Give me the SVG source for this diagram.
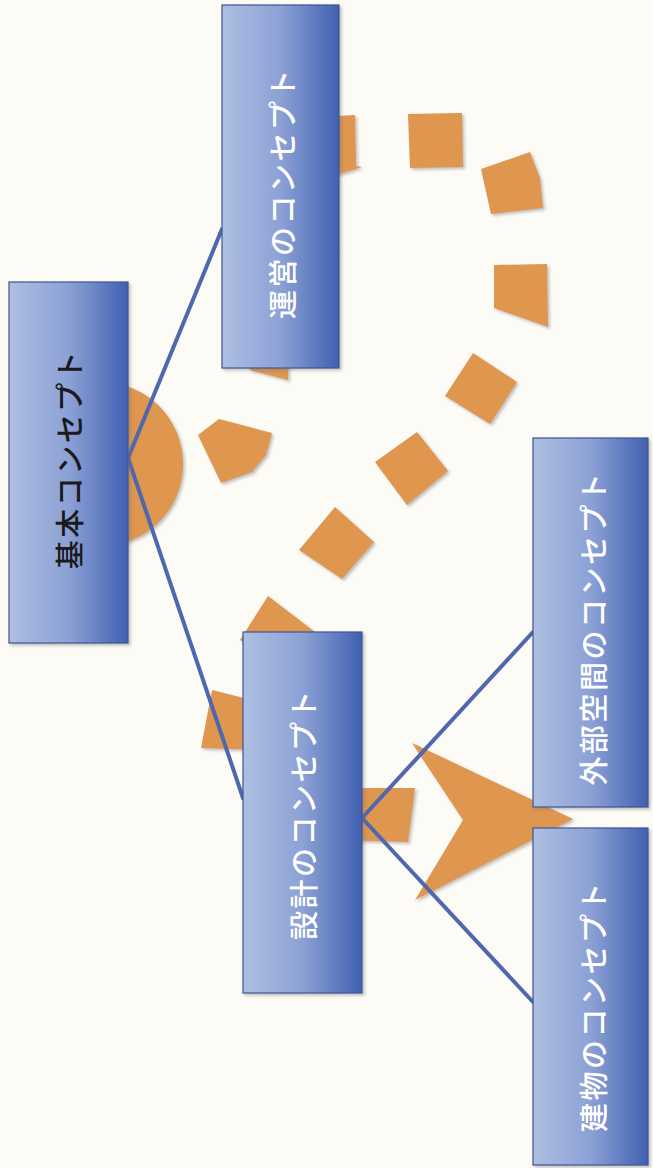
<svg xmlns="http://www.w3.org/2000/svg" width="653" height="1168" viewBox="0 0 653 1168">
<defs>
<linearGradient id="boxGrad" x1="0" y1="0" x2="1" y2="0">
<stop offset="0" stop-color="#afbfe2"/>
<stop offset="0.5" stop-color="#8ca1d5"/>
<stop offset="1" stop-color="#4060b1"/>
</linearGradient>
<filter id="sh" x="-20%" y="-20%" width="140%" height="140%">
<feDropShadow dx="2" dy="2" stdDeviation="1.5" flood-color="#777" flood-opacity="0.45"/>
</filter>
<style>
.bg{fill:#fcfbf6}
.org{fill:#df9650;filter:url(#sh)}
.box{fill:url(#boxGrad);stroke:#3c5595;stroke-width:1.2;filter:url(#sh)}
.conn{stroke:#4f67ae;stroke-width:4;fill:none;stroke-linecap:round}
.lbl{font-family:"Noto Sans CJK JP","Noto Sans CJK SC",sans-serif;font-size:29px;letter-spacing:2.5px;text-anchor:middle;dominant-baseline:central;font-weight:500}
.dark{fill:#1a1a1a}
.light{fill:#ffffff}
</style>
</defs>
<rect class="bg" x="0" y="0" width="653" height="1168"/>
<g id="loop-arrow">
<circle class="org" cx="101" cy="464" r="82"/>
<polygon class="org" points="198,435 219,419 272,433 266,455 252,472 221,483"/>
<polygon class="org" points="243,340 288,340 288,380 250,370"/>
<polygon class="org" points="320,117 355,115 356,166 362,167 320,180"/>
<polygon class="org" points="408,114 462,113 463,167 410,168"/>
<polygon class="org" points="481,169 530,152 540,178 543,208 491,214"/>
<polygon class="org" points="494,265 547,264 548,327 494,308"/>
<polygon class="org" points="473,353 517,382 490,424 445,396"/>
<polygon class="org" points="417,432 448,471 407,505 375,462"/>
<polygon class="org" points="335,507 374,542 342,579 299,550"/>
<polygon class="org" points="268,596 315,632 290,670 240,640"/>
<polygon class="org" points="212,690 260,702 260,750 201,748"/>
<polygon class="org" points="340,788 415,788 408,842 340,840"/>
<polygon class="org" points="412,743 573,819 415,900 463,820"/>
</g>
<g id="connectors">
<line class="conn" x1="128" y1="458" x2="222" y2="229"/>
<line class="conn" x1="128" y1="458" x2="243" y2="798"/>
<line class="conn" x1="362" y1="818" x2="533" y2="632"/>
<line class="conn" x1="362" y1="818" x2="533" y2="1002"/>
</g>
<g id="node-kihon">
<rect class="box" x="9" y="282" width="119" height="361"/>
<text class="lbl dark" transform="translate(68,459) rotate(-90)">基本コンセプト</text>
</g>
<g id="node-unei">
<rect class="box" x="222" y="5" width="117" height="363"/>
<text class="lbl light" transform="translate(281,193) rotate(-90)">運営のコンセプト</text>
</g>
<g id="node-sekkei">
<rect class="box" x="243" y="632" width="119" height="361"/>
<text class="lbl light" transform="translate(302,814) rotate(-90)">設計のコンセプト</text>
</g>
<g id="node-gaibu">
<rect class="box" x="533" y="438" width="115" height="369"/>
<text class="lbl light" transform="translate(592,628) rotate(-90)">外部空間のコンセプト</text>
</g>
<g id="node-tatemono">
<rect class="box" x="533" y="828" width="115" height="337"/>
<text class="lbl light" transform="translate(592,1006) rotate(-90)">建物のコンセプト</text>
</g>
</svg>
